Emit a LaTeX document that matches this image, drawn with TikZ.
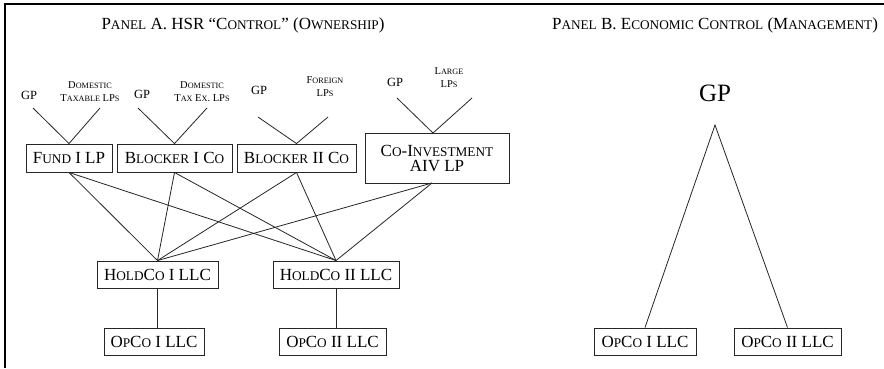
\documentclass[tikz,border=0pt]{standalone}
\usepackage{fontspec}
\setmainfont{Liberation Serif}
\makeatletter
\newcommand\smc[1]{{\fontsize{\fpeval{0.78*\f@size}}{\f@baselineskip}\selectfont #1}}
\makeatother
\begin{document}
\begin{tikzpicture}[x=1pt,y=-1pt,
  box/.style={draw=black!85, line width=0.9pt, inner sep=0pt, align=center,
    font=\fontsize{17}{15}\selectfont, minimum height=27pt},
  lbl/.style={inner sep=0pt, font=\fontsize{12.5}{13}\selectfont},
  lbltwo/.style={inner sep=0pt, align=center, font=\fontsize{10.5}{13}\selectfont},
  ttl/.style={inner sep=0pt, font=\fontsize{17}{17}\selectfont},
  con/.style={draw=black!85, line width=0.8pt},
  frame/.style={draw=black, line width=2.2pt}]
\useasboundingbox (0,0) rectangle (884,368);
\fill[white] (0,0) rectangle (884,368);
% frame
\coordinate (fa) at (5,4);
\coordinate (fb) at (884,4);
\coordinate (fc) at (5,368);
\draw[frame] (fb) -- (fa) -- (fc);
% titles
\node[ttl] (ta) at (243,25) {P\smc{ANEL} A. HSR “C\smc{ONTROL}” (O\smc{WNERSHIP})};
\node[ttl] (tb) at (715,25) {P\smc{ANEL} B. E\smc{CONOMIC} C\smc{ONTROL} (M\smc{ANAGEMENT})};
% leaf labels
\node[lbl] (gp1) at (29,95) {GP};
\node[lbltwo] (dt) at (90,91.5) {D\smc{OMESTIC}\\T\smc{AXABLE} LP\smc{S}};
\node[lbl] (gp2) at (142,94) {GP};
\node[lbltwo] (dte) at (202,91.5) {D\smc{OMESTIC}\\T\smc{AX} E\smc{X}. LP\smc{S}};
\node[lbl] (gp3) at (259,90) {GP};
\node[lbltwo] (fl) at (325,87) {F\smc{OREIGN}\\LP\smc{S}};
\node[lbl] (gp4) at (395,82) {GP};
\node[lbltwo] (ll) at (449,78) {L\smc{ARGE}\\LP\smc{S}};
% boxes row 1
\node[box, minimum width=86pt, minimum height=28pt] (fund) at (69,158) {F\smc{UND} I LP};
\node[box, minimum width=115pt, minimum height=28pt] (b1) at (174.5,158) {B\smc{LOCKER} I C\smc{O}};
\node[box, minimum width=119pt, minimum height=28pt] (b2) at (296.5,158) {B\smc{LOCKER} II C\smc{O}};
\node[box, minimum width=144pt, minimum height=50pt] (co) at (437,158) {C\smc{O}-I\smc{NVESTMENT}\\AIV LP};
% holdcos
\node[box, minimum width=121pt] (h1) at (157.5,274.5) {H\smc{OLD}C\smc{O} I LLC};
\node[box, minimum width=126pt] (h2) at (336,274.5) {H\smc{OLD}C\smc{O} II LLC};
% opcos A
\node[box, minimum width=100pt] (o1) at (154,341.5) {O\smc{P}C\smc{O} I LLC};
\node[box, minimum width=107pt] (o2) at (332.5,341.5) {O\smc{P}C\smc{O} II LLC};
% panel B
\node[inner sep=0pt, font=\fontsize{25}{25}\selectfont] (gpb) at (715,93) {GP};
\coordinate (apex) at (715,125);
\node[box, minimum width=102pt] (ob1) at (645,341.5) {O\smc{P}C\smc{O} I LLC};
\node[box, minimum width=107pt] (ob2) at (787.5,341.5) {O\smc{P}C\smc{O} II LLC};
% connector start points
\coordinate (s1a) at (33,108);
\coordinate (s1b) at (100,108);
\coordinate (s2a) at (138,108);
\coordinate (s2b) at (207,108);
\coordinate (s3a) at (258,117);
\coordinate (s3b) at (328,117);
\coordinate (s4a) at (397,98);
\coordinate (s4b) at (472,98);
\coordinate (coN) at (433,133);
\coordinate (coS) at (432,183);
% top connectors
\draw[con] (s1a) -- (fund.north) -- (s1b);
\draw[con] (s2a) -- (b1.north) -- (s2b);
\draw[con] (s3a) -- (b2.north) -- (s3b);
\draw[con] (s4a) -- (coN) -- (s4b);
% cross connectors
\foreach \s in {fund.south, b1.south, b2.south, coS} {
  \draw[con] (\s) -- (h1.north);
  \draw[con] (\s) -- (h2.north);
}
\draw[con] (h1.south) -- (h1.south |- o1.north);
\draw[con] (h2.south) -- (h2.south |- o2.north);
% panel B connectors
\draw[con] (ob1.north) -- (apex) -- (ob2.north);
\end{tikzpicture}
\end{document}
